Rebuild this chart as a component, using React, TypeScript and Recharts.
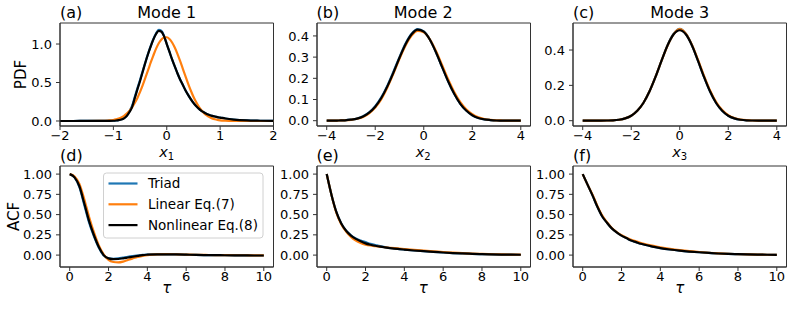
import { LineChart, Line, XAxis, YAxis, ReferenceArea } from "recharts";

// PDF grids
const pdfX1 = [
  -2, -1.75, -1.5, -1.25, -1.1, -1.0, -0.95, -0.9, -0.85, -0.8, -0.75, -0.7, -0.65, -0.6, -0.55, -0.5, -0.45, -0.4,
  -0.35, -0.3, -0.25, -0.2, -0.15, -0.1, -0.05, 0, 0.05, 0.1, 0.15, 0.2, 0.25, 0.3, 0.35, 0.4, 0.45, 0.5, 0.55,
  0.6, 0.65, 0.7, 0.75, 0.8, 0.85, 0.9, 0.95, 1.0, 1.1, 1.25, 1.5, 1.75, 2,
];
const pdf1Triad = [
  0, 0, 0.001, 0.001, 0.002, 0.003, 0.006, 0.012, 0.022, 0.038, 0.072, 0.128, 0.195, 0.31, 0.425, 0.535, 0.65, 0.765,
  0.875, 0.975, 1.065, 1.14, 1.185, 1.17, 1.105, 1.0, 0.9, 0.8, 0.71, 0.62, 0.54, 0.47, 0.4, 0.34, 0.285, 0.235, 0.195,
  0.16, 0.132, 0.11, 0.092, 0.078, 0.067, 0.058, 0.05, 0.044, 0.032, 0.019, 0.007, 0.003, 0.001,
];
const pdf1Linear = [
  0, 0, 0, 0.002, 0.006, 0.013, 0.021, 0.031, 0.046, 0.067, 0.095, 0.131, 0.177, 0.233, 0.3, 0.378, 0.466, 0.562,
  0.66, 0.76, 0.853, 0.94, 1.01, 1.06, 1.085, 1.088, 1.066, 1.02, 0.955, 0.873, 0.78, 0.681, 0.582, 0.485, 0.396,
  0.315, 0.246, 0.187, 0.14, 0.101, 0.072, 0.05, 0.034, 0.022, 0.014, 0.009, 0.004, 0.001, 0, 0, 0,
];
const pdf1Nonlinear = [
  0, 0, 0.001, 0.001, 0.002, 0.003, 0.006, 0.012, 0.02, 0.035, 0.065, 0.115, 0.18, 0.295, 0.41, 0.52, 0.64, 0.76,
  0.87, 0.97, 1.06, 1.13, 1.17, 1.16, 1.1, 1.0, 0.9, 0.8, 0.71, 0.62, 0.54, 0.47, 0.4, 0.34, 0.285, 0.235, 0.195,
  0.16, 0.132, 0.11, 0.092, 0.078, 0.067, 0.058, 0.05, 0.044, 0.032, 0.019, 0.007, 0.003, 0.001,
];

const pdfX23 = [
  -4, -3.75, -3.5, -3.25, -3, -2.75, -2.5, -2.25, -2, -1.75, -1.5, -1.25, -1, -0.75, -0.5, -0.25, 0, 0.25, 0.5, 0.75,
  1, 1.25, 1.5, 1.75, 2, 2.25, 2.5, 2.75, 3, 3.25, 3.5, 3.75, 4,
];
const pdf2Triad = [
  0, 0, 0.001, 0.002, 0.005, 0.01, 0.021, 0.039, 0.068, 0.11, 0.165, 0.231, 0.3, 0.364, 0.41, 0.432, 0.421, 0.383,
  0.324, 0.255, 0.187, 0.128, 0.081, 0.048, 0.026, 0.013, 0.006, 0.003, 0.001, 0, 0, 0, 0,
];
const pdf2Linear = [
  0, 0, 0.001, 0.002, 0.004, 0.009, 0.018, 0.035, 0.062, 0.102, 0.157, 0.222, 0.292, 0.355, 0.402, 0.424, 0.417,
  0.384, 0.33, 0.264, 0.197, 0.137, 0.089, 0.054, 0.031, 0.016, 0.008, 0.004, 0.002, 0.001, 0, 0, 0,
];
const pdf2Nonlinear = [
  0, 0, 0.001, 0.002, 0.005, 0.01, 0.02, 0.038, 0.066, 0.107, 0.162, 0.227, 0.297, 0.361, 0.408, 0.43, 0.42, 0.383,
  0.324, 0.255, 0.187, 0.128, 0.081, 0.048, 0.026, 0.013, 0.006, 0.003, 0.001, 0, 0, 0, 0,
];

const pdf3Triad = [
  0, 0, 0, 0.0005, 0.001, 0.002, 0.0055, 0.013, 0.028, 0.056, 0.1, 0.165, 0.248, 0.34, 0.428, 0.492, 0.52, 0.492,
  0.428, 0.34, 0.248, 0.165, 0.1, 0.056, 0.028, 0.013, 0.0055, 0.002, 0.001, 0.0005, 0, 0, 0,
];
const pdf3Linear = [
  0, 0, 0, 0.0005, 0.001, 0.002, 0.0055, 0.013, 0.028, 0.056, 0.1, 0.165, 0.248, 0.34, 0.426, 0.49, 0.518, 0.493,
  0.43, 0.345, 0.254, 0.171, 0.105, 0.06, 0.031, 0.015, 0.007, 0.003, 0.001, 0.0005, 0, 0, 0,
];
const pdf3Nonlinear = [
  0, 0, 0, 0.0005, 0.001, 0.002, 0.0055, 0.013, 0.028, 0.056, 0.1, 0.165, 0.248, 0.34, 0.427, 0.489, 0.512, 0.489,
  0.427, 0.34, 0.248, 0.165, 0.1, 0.056, 0.028, 0.013, 0.0055, 0.002, 0.001, 0.0005, 0, 0, 0,
];

// ACF grid
const tau = [
  0, 0.25, 0.5, 0.75, 1, 1.25, 1.5, 1.75, 2, 2.25, 2.5, 2.75, 3, 3.25, 3.5, 3.75, 4, 4.5, 5, 5.5, 6, 6.5, 7, 7.5, 8,
  8.5, 9, 9.5, 10,
];
const acf1Triad = [
  1, 0.96, 0.84, 0.62, 0.4, 0.23, 0.09, -0.005, -0.04, -0.045, -0.04, -0.03, -0.02, -0.012, -0.005, 0.002, 0.006,
  0.01, 0.01, 0.008, 0.005, 0.002, 0, -0.001, -0.002, -0.003, -0.004, -0.005, -0.005,
];
const acf1Linear = [
  1, 0.97, 0.88, 0.69, 0.47, 0.28, 0.12, 0.01, -0.06, -0.085, -0.09, -0.08, -0.06, -0.04, -0.022, -0.01, 0, 0.01,
  0.012, 0.01, 0.007, 0.004, 0.002, 0, -0.001, -0.002, -0.002, -0.003, -0.003,
];
const acf1Nonlinear = [
  1, 0.96, 0.85, 0.64, 0.42, 0.245, 0.1, 0, -0.04, -0.05, -0.048, -0.04, -0.03, -0.02, -0.01, 0, 0.005, 0.01, 0.01,
  0.008, 0.005, 0.002, 0, -0.001, -0.002, -0.003, -0.004, -0.005, -0.005,
];
const acf2Triad = [
  1, 0.74, 0.53, 0.39, 0.3, 0.245, 0.205, 0.18, 0.16, 0.14, 0.125, 0.11, 0.098, 0.088, 0.08, 0.074, 0.068, 0.057,
  0.048, 0.04, 0.032, 0.025, 0.02, 0.016, 0.012, 0.009, 0.007, 0.005, 0.004,
];
const acf2Linear = [
  1, 0.74, 0.52, 0.38, 0.29, 0.225, 0.18, 0.15, 0.13, 0.118, 0.11, 0.103, 0.097, 0.091, 0.085, 0.08, 0.075, 0.065,
  0.055, 0.046, 0.038, 0.03, 0.024, 0.018, 0.014, 0.011, 0.008, 0.006, 0.005,
];
const acf2Nonlinear = [
  1, 0.74, 0.53, 0.39, 0.3, 0.24, 0.2, 0.17, 0.145, 0.128, 0.115, 0.104, 0.095, 0.087, 0.08, 0.074, 0.068, 0.057,
  0.048, 0.04, 0.032, 0.025, 0.02, 0.016, 0.012, 0.009, 0.007, 0.005, 0.004,
];
const acf3Triad = [
  1, 0.87, 0.74, 0.6, 0.48, 0.4, 0.33, 0.28, 0.24, 0.21, 0.18, 0.16, 0.14, 0.124, 0.11, 0.098, 0.087, 0.069, 0.055,
  0.044, 0.035, 0.027, 0.02, 0.015, 0.011, 0.008, 0.006, 0.004, 0.003,
];
const acf3Linear = [
  1, 0.87, 0.75, 0.61, 0.49, 0.405, 0.335, 0.285, 0.245, 0.215, 0.19, 0.17, 0.15, 0.134, 0.12, 0.107, 0.096, 0.077,
  0.061, 0.048, 0.038, 0.029, 0.022, 0.016, 0.012, 0.008, 0.006, 0.004, 0.003,
];
const acf3Nonlinear = [
  1, 0.87, 0.74, 0.6, 0.48, 0.4, 0.33, 0.28, 0.24, 0.21, 0.18, 0.16, 0.14, 0.124, 0.11, 0.098, 0.087, 0.069, 0.055,
  0.044, 0.035, 0.027, 0.02, 0.015, 0.011, 0.008, 0.006, 0.004, 0.003,
];

const seriesNames = ["Triad", "Linear Eq.(7)", "Nonlinear Eq.(8)"];
const colors = ["#1f77b4", "#ff7f0e", "#000000"];

const FONT = "'DejaVu Sans', sans-serif";
const Y_W = 56;
const PAD_T = 6;
const PAD_R = 14;
const X_H = 24;
const PLOT_W = 213.5;
const COLS = [60, 316.5, 573];
const ROW1_TOP = 23;
const ROW1_H = 103;
const ROW2_TOP = 166;
const ROW2_H = 101;

const fmt = (digits: number) => (v: number) => (v < 0 ? "\u2212" : "") + Math.abs(v).toFixed(digits);

type PanelProps = {
  left: number;
  top: number;
  h: number;
  xs: number[];
  series: number[][];
  xDomain: [number, number];
  yDomain: [number, number];
  xTicks: number[];
  yTicks: number[];
  yDigits: number;
};

function Panel({ left, top, h, xs, series, xDomain, yDomain, xTicks, yTicks, yDigits }: PanelProps) {
  const data = xs.map((x, i) => ({ x, triad: series[0][i], linear: series[1][i], nonlinear: series[2][i] }));
  const tick = { fill: "#000", fontSize: 13, fontFamily: FONT };
  return (
    <div style={{ position: "absolute", left: left - Y_W, top: top - PAD_T }}>
      <LineChart
        width={Y_W + PLOT_W + PAD_R}
        height={PAD_T + h + X_H}
        data={data}
        margin={{ top: PAD_T, right: PAD_R, left: 0, bottom: 0 }}
      >
        <XAxis
          dataKey="x"
          type="number"
          domain={xDomain}
          ticks={xTicks}
          interval={0}
          allowDataOverflow
          height={X_H}
          tickSize={4}
          tickMargin={1}
          tick={tick}
          tickFormatter={fmt(0)}
          stroke="#333"
        />
        <YAxis
          type="number"
          domain={yDomain}
          ticks={yTicks}
          interval={0}
          allowDataOverflow
          width={Y_W}
          tickSize={4}
          tickMargin={4}
          tick={tick}
          tickFormatter={fmt(yDigits)}
          stroke="#333"
        />
        <ReferenceArea
          x1={xDomain[0]}
          x2={xDomain[1]}
          y1={yDomain[0]}
          y2={yDomain[1]}
          fill="none"
          fillOpacity={0}
          stroke="#333"
          strokeWidth={1}
          ifOverflow="visible"
        />
        <Line dataKey="triad" type="monotone" stroke={colors[0]} strokeWidth={2.2} dot={false} isAnimationActive={false} />
        <Line dataKey="linear" type="monotone" stroke={colors[1]} strokeWidth={2.2} dot={false} isAnimationActive={false} />
        <Line dataKey="nonlinear" type="monotone" stroke={colors[2]} strokeWidth={2.2} dot={false} isAnimationActive={false} />
      </LineChart>
    </div>
  );
}

function XLabel({ cx, y, sub }: { cx: number; y: number; sub: string }) {
  return (
    <text x={cx} y={y} textAnchor="middle" fontSize={14.5}>
      <tspan fontStyle="italic">x</tspan>
      <tspan fontSize={10} dy={3}>
        {sub}
      </tspan>
    </text>
  );
}

export default function App() {
  const mid = (c: number) => c + PLOT_W / 2;
  const pdfTicks = [-4, -2, 0, 2, 4];
  const acfX = [0, 2, 4, 6, 8, 10];
  const acfY = [0, 0.25, 0.5, 0.75, 1];
  const acfDom: [number, number] = [-0.147, 1.1];
  return (
    <div
      style={{ position: "absolute", left: 0, top: 0, width: 793, height: 310, background: "#fff", fontFamily: FONT }}
    >
      <Panel left={COLS[0]} top={ROW1_TOP} h={ROW1_H} xs={pdfX1} series={[pdf1Triad, pdf1Linear, pdf1Nonlinear]}
        xDomain={[-2, 2]} yDomain={[-0.065, 1.273]} xTicks={[-2, -1, 0, 1, 2]} yTicks={[0, 0.5, 1]} yDigits={1} />
      <Panel left={COLS[1]} top={ROW1_TOP} h={ROW1_H} xs={pdfX23} series={[pdf2Triad, pdf2Linear, pdf2Nonlinear]}
        xDomain={[-4.4, 4.4]} yDomain={[-0.025, 0.461]} xTicks={pdfTicks} yTicks={[0, 0.1, 0.2, 0.3, 0.4]} yDigits={1} />
      <Panel left={COLS[2]} top={ROW1_TOP} h={ROW1_H} xs={pdfX23} series={[pdf3Triad, pdf3Linear, pdf3Nonlinear]}
        xDomain={[-4.4, 4.4]} yDomain={[-0.03, 0.553]} xTicks={pdfTicks} yTicks={[0, 0.2, 0.4]} yDigits={1} />
      <Panel left={COLS[0]} top={ROW2_TOP} h={ROW2_H} xs={tau} series={[acf1Triad, acf1Linear, acf1Nonlinear]}
        xDomain={[-0.5, 10.5]} yDomain={acfDom} xTicks={acfX} yTicks={acfY} yDigits={2} />
      <Panel left={COLS[1]} top={ROW2_TOP} h={ROW2_H} xs={tau} series={[acf2Triad, acf2Linear, acf2Nonlinear]}
        xDomain={[-0.5, 10.5]} yDomain={acfDom} xTicks={acfX} yTicks={acfY} yDigits={2} />
      <Panel left={COLS[2]} top={ROW2_TOP} h={ROW2_H} xs={tau} series={[acf3Triad, acf3Linear, acf3Nonlinear]}
        xDomain={[-0.5, 10.5]} yDomain={acfDom} xTicks={acfX} yTicks={acfY} yDigits={2} />

      <svg
        width={793}
        height={310}
        style={{ position: "absolute", left: 0, top: 0, pointerEvents: "none", fontFamily: FONT }}
      >
        {/* panel titles */}
        {["(a)", "(b)", "(c)"].map((t, i) => (
          <text key={t} x={COLS[i]} y={18} fontSize={16}>{t}</text>
        ))}
        {["Mode 1", "Mode 2", "Mode 3"].map((t, i) => (
          <text key={t} x={mid(COLS[i])} y={18} fontSize={16} textAnchor="middle">{t}</text>
        ))}
        {["(d)", "(e)", "(f)"].map((t, i) => (
          <text key={t} x={COLS[i]} y={160.5} fontSize={16}>{t}</text>
        ))}

        {/* axis labels */}
        {["1", "2", "3"].map((s, i) => (
          <XLabel key={s} cx={mid(COLS[i])} y={157} sub={s} />
        ))}
        {COLS.map((c) => (
          <text key={c} x={mid(c)} y={293} fontSize={15} textAnchor="middle" fontStyle="italic">τ</text>
        ))}
        <text x={26} y={74.5} fontSize={15} textAnchor="middle" transform="rotate(-90 26 74.5)">PDF</text>
        <text x={18.5} y={216.5} fontSize={15} textAnchor="middle" transform="rotate(-90 18.5 216.5)">ACF</text>

        {/* legend */}
        <rect x={103.5} y={173} width={159.5} height={65} rx={3} fill="#fff" fillOpacity={0.8} stroke="#d0d0d0" />
        {seriesNames.map((name, i) => (
          <g key={name}>
            <line x1={108.5} x2={137.5} y1={183.5 + i * 20.8} y2={183.5 + i * 20.8} stroke={colors[i]} strokeWidth={2.2} />
            <text x={148} y={188.3 + i * 20.8} fontSize={13.5}>{name}</text>
          </g>
        ))}
      </svg>
    </div>
  );
}
